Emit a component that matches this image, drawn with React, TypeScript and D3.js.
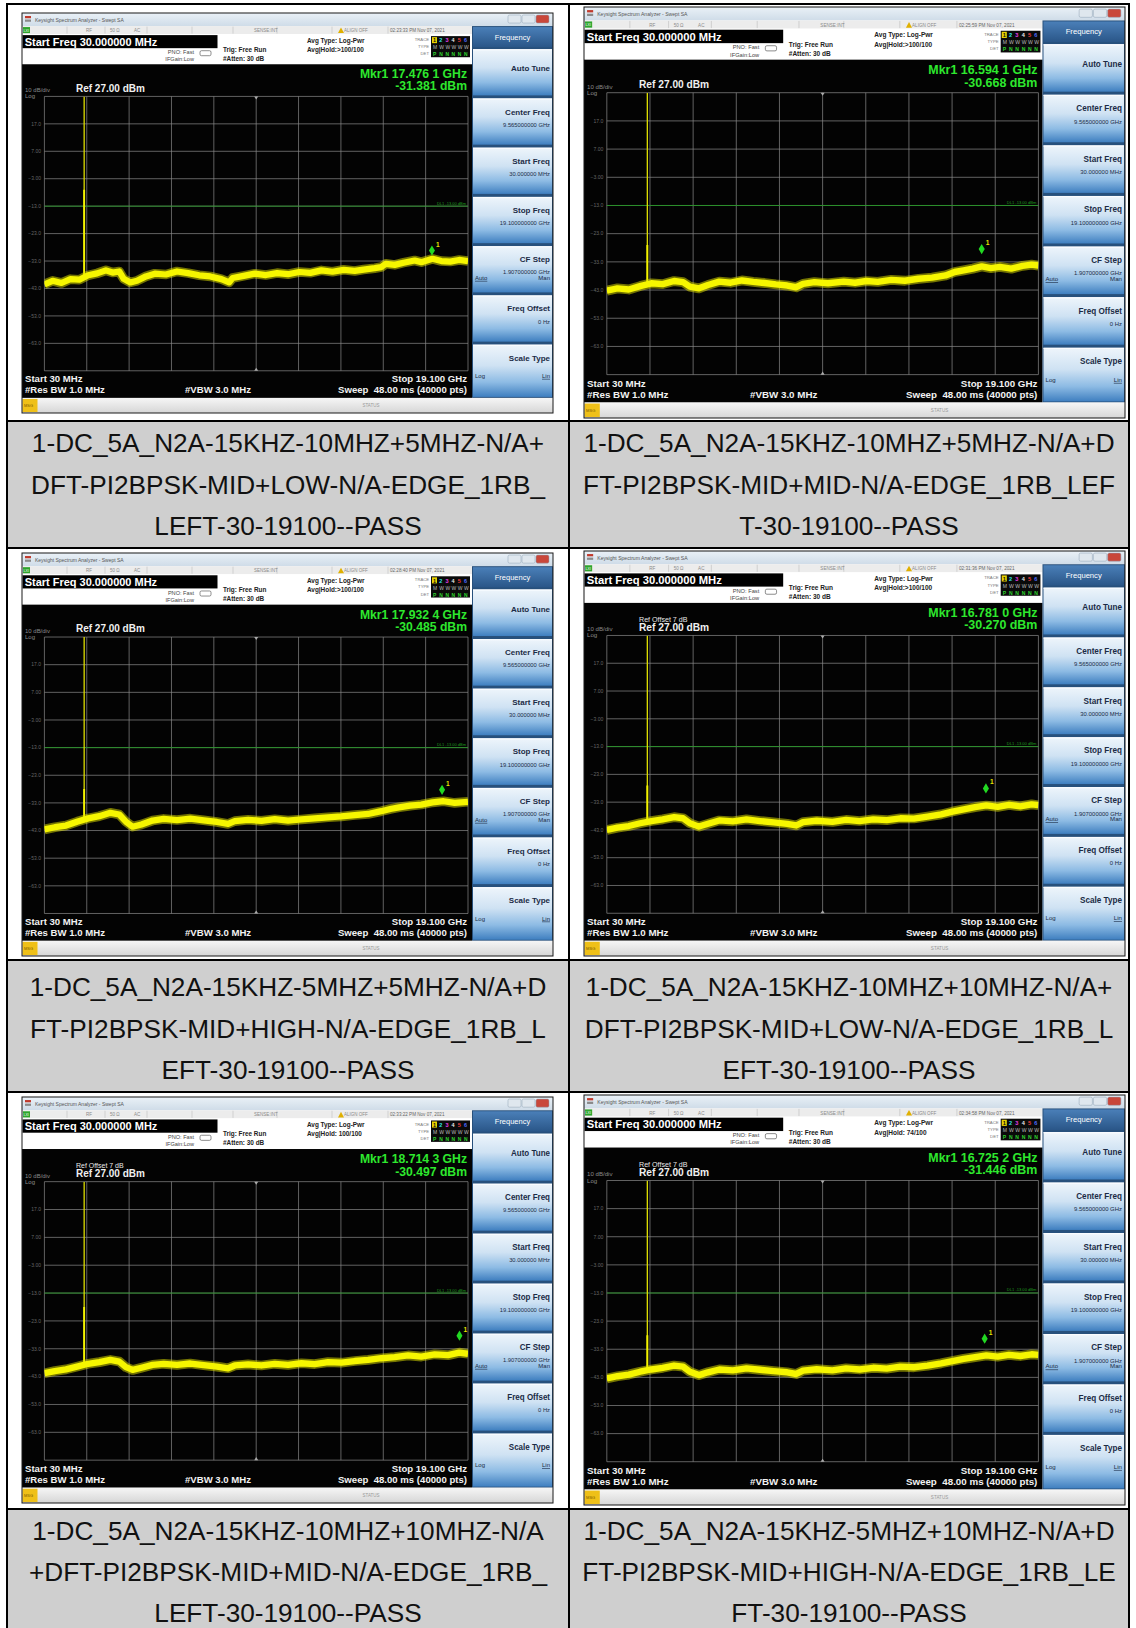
import { useEffect, useRef } from 'react'
import * as d3 from 'd3'

type Pt = [number, number]

// panels are ordered row by row, left cell first
const captions = [
  ['1-DC_5A_N2A-15KHZ-10MHZ+5MHZ-N/A+', 'DFT-PI2BPSK-MID+LOW-N/A-EDGE_1RB_', 'LEFT-30-19100--PASS'],
  ['1-DC_5A_N2A-15KHZ-10MHZ+5MHZ-N/A+D', 'FT-PI2BPSK-MID+MID-N/A-EDGE_1RB_LEF', 'T-30-19100--PASS'],
  ['1-DC_5A_N2A-15KHZ-5MHZ+5MHZ-N/A+D', 'FT-PI2BPSK-MID+HIGH-N/A-EDGE_1RB_L', 'EFT-30-19100--PASS'],
  ['1-DC_5A_N2A-15KHZ-10MHZ+10MHZ-N/A+', 'DFT-PI2BPSK-MID+LOW-N/A-EDGE_1RB_L', 'EFT-30-19100--PASS'],
  ['1-DC_5A_N2A-15KHZ-10MHZ+10MHZ-N/A', '+DFT-PI2BPSK-MID+MID-N/A-EDGE_1RB_', 'LEFT-30-19100--PASS'],
  ['1-DC_5A_N2A-15KHZ-5MHZ+10MHZ-N/A+D', 'FT-PI2BPSK-MID+HIGH-N/A-EDGE_1RB_LE', 'FT-30-19100--PASS'],
]
const timestamps = [
  '02:23:33 PM Nov 07, 2021', '02:25:59 PM Nov 07, 2021', '02:28:40 PM Nov 07, 2021',
  '02:31:36 PM Nov 07, 2021', '02:33:22 PM Nov 07, 2021', '02:34:58 PM Nov 07, 2021',
]
const markerFreqs = [17.4761, 16.5941, 17.9324, 16.781, 18.7143, 16.7252]
const markerFreqLabels = ['17.476 1 GHz', '16.594 1 GHz', '17.932 4 GHz', '16.781 0 GHz', '18.714 3 GHz', '16.725 2 GHz']
const markerLevels = [-31.381, -30.668, -30.485, -30.27, -30.497, -31.446]
const avgHolds = ['Avg|Hold:>100/100', 'Avg|Hold:>100/100', 'Avg|Hold:>100/100', 'Avg|Hold:>100/100', 'Avg|Hold: 100/100', 'Avg|Hold: 74/100']
const refOffsets = [false, false, false, true, true, true]
const spikeFreq = 1.82
const spikeBright = [-7, -27, -28, -27, -18, -28]
const yTicks = [27, 17, 7, -3, -13, -23, -33, -43, -53, -63, -73]
const displayLine = -13

const softkeyTitles = ['Auto Tune', 'Center Freq', 'Start Freq', 'Stop Freq', 'CF Step', 'Freq Offset', 'Scale Type']
const softkeyValues = ['', '9.565000000 GHz', '30.000000 MHz', '19.100000000 GHz', '1.907000000 GHz', '0 Hz', '']

// trace levels (GHz, dBm)
const trace1: Pt[] = [
  [0.03, -41.5], [0.4, -40.2], [0.8, -41], [1.2, -39.6], [1.6, -39.8], [2.0, -38.2], [2.4, -37.5], [2.8, -36.4],
  [3.1, -37.2], [3.4, -36.8], [3.6, -39.5], [3.9, -40.8], [4.2, -40.2], [4.6, -38.6], [5.0, -37.6], [5.5, -37.9],
  [6.0, -36.8], [6.5, -37.4], [7.0, -38.2], [7.5, -38.6], [8.0, -39.6], [8.35, -40.8], [8.5, -39.2], [9.0, -38.4],
  [9.5, -37.6], [10.0, -38.1], [10.5, -37.4], [11.0, -37.8], [11.5, -37.0], [12.0, -37.3], [12.5, -36.4], [13.0, -36.9],
  [13.5, -36.2], [14.0, -36.6], [14.4, -36.1], [14.9, -35.6], [15.2, -35.2], [15.4, -34.0], [15.8, -34.4], [16.2, -33.6],
  [16.7, -32.8], [17.0, -33.4], [17.5, -32.2], [17.9, -33.0], [18.3, -33.2], [18.7, -32.6], [19.1, -33.0],
]
const trace2: Pt[] = [
  [0.03, -43.2], [0.5, -42.4], [1.0, -42.8], [1.5, -41.6], [2.0, -40.6], [2.5, -40.9], [3.0, -39.8], [3.4, -40.2],
  [3.7, -41.8], [4.1, -42.4], [4.5, -41.2], [5.0, -40.0], [5.5, -40.4], [6.0, -39.6], [6.5, -40.1], [7.0, -40.5],
  [7.5, -41.0], [8.0, -41.4], [8.4, -42.0], [8.7, -40.8], [9.2, -40.2], [9.8, -40.6], [10.5, -40.0], [11.0, -40.4],
  [11.5, -39.8], [12.0, -40.1], [12.6, -39.4], [13.2, -39.7], [13.8, -39.0], [14.4, -38.6], [15.0, -37.8], [15.4, -36.6],
  [15.8, -36.0], [16.2, -35.4], [16.6, -34.6], [17.0, -35.2], [17.4, -34.8], [17.9, -35.4], [18.4, -34.4], [18.8, -34.0],
  [19.1, -34.3],
]
const trace3: Pt[] = [
  [0.03, -42.6], [0.5, -41.8], [1.0, -41.2], [1.5, -39.8], [2.0, -38.6], [2.5, -37.8], [3.0, -36.6], [3.4, -37.2],
  [3.7, -39.8], [4.0, -41.6], [4.4, -40.8], [4.9, -39.4], [5.4, -38.8], [6.0, -39.2], [6.6, -38.7], [7.2, -39.3],
  [7.8, -39.9], [8.3, -40.6], [8.6, -39.6], [9.2, -39.1], [9.8, -39.5], [10.4, -38.9], [11.0, -39.4], [11.6, -39.0],
  [12.2, -38.6], [12.8, -38.2], [13.4, -37.9], [14.0, -37.4], [14.6, -37.0], [15.2, -36.0], [15.6, -35.2], [16.0, -34.6],
  [16.5, -34.0], [17.0, -33.6], [17.5, -32.8], [18.0, -32.4], [18.5, -33.0], [19.1, -32.6],
]
const trace4: Pt[] = [
  [0.03, -43.0], [0.5, -42.2], [1.0, -41.6], [1.5, -40.6], [2.0, -39.8], [2.5, -39.2], [3.0, -38.4], [3.4, -38.8],
  [3.7, -40.6], [4.1, -41.8], [4.5, -40.8], [5.0, -39.6], [5.6, -39.9], [6.2, -39.2], [6.8, -39.8], [7.4, -40.3],
  [8.0, -40.8], [8.4, -41.4], [8.7, -40.2], [9.3, -39.7], [10.0, -40.1], [10.6, -39.4], [11.2, -39.8], [11.8, -39.2],
  [12.4, -39.5], [13.0, -38.8], [13.6, -38.9], [14.2, -38.2], [14.8, -37.4], [15.3, -36.4], [15.8, -35.6], [16.3, -34.8],
  [16.8, -34.2], [17.3, -34.7], [17.8, -34.0], [18.3, -34.5], [18.8, -33.8], [19.1, -34.1],
]
const trace5: Pt[] = [
  [0.03, -41.8], [0.5, -41.0], [1.0, -40.4], [1.5, -39.4], [2.0, -38.4], [2.5, -37.8], [3.0, -37.0], [3.4, -37.6],
  [3.7, -39.6], [4.0, -40.6], [4.4, -39.8], [4.9, -38.8], [5.4, -38.4], [6.0, -38.8], [6.6, -38.3], [7.2, -38.9],
  [7.8, -39.4], [8.3, -40.0], [8.6, -39.0], [9.2, -38.6], [9.8, -39.0], [10.4, -38.4], [11.0, -38.8], [11.6, -38.2],
  [12.2, -38.5], [12.8, -37.8], [13.4, -38.0], [14.0, -37.4], [14.6, -37.0], [15.2, -36.4], [15.8, -36.0], [16.4, -35.4],
  [17.0, -35.8], [17.6, -35.0], [18.2, -35.3], [18.7, -34.4], [19.1, -34.8],
]
const trace6: Pt[] = [
  [0.03, -43.4], [0.5, -42.6], [1.0, -42.0], [1.5, -41.0], [2.0, -40.2], [2.5, -39.6], [3.0, -38.8], [3.4, -39.2],
  [3.7, -41.0], [4.1, -42.2], [4.5, -41.2], [5.0, -40.2], [5.6, -40.5], [6.2, -39.8], [6.8, -40.3], [7.4, -40.8],
  [8.0, -41.2], [8.4, -41.8], [8.7, -40.6], [9.3, -40.1], [10.0, -40.5], [10.6, -39.8], [11.2, -40.2], [11.8, -39.6],
  [12.4, -39.9], [13.0, -39.2], [13.6, -39.4], [14.2, -38.8], [14.8, -38.0], [15.3, -37.2], [15.8, -36.4], [16.3, -35.8],
  [16.8, -35.2], [17.3, -35.6], [17.8, -35.0], [18.3, -35.4], [18.8, -34.8], [19.1, -35.0],
]
const traces = [trace1, trace2, trace3, trace4, trace5, trace6]

const FONT = '"Liberation Sans", Arial, sans-serif'
const NW = 531
const NH = 398

const boxes = [
  { x: 22, y: 13, w: 531, h: 400 },
  { x: 584, y: 7, w: 541, h: 411 },
  { x: 22, y: 553, w: 531, h: 403 },
  { x: 584, y: 551, w: 541, h: 405 },
  { x: 22, y: 1097, w: 531, h: 406 },
  { x: 584, y: 1095, w: 541, h: 410 },
]

function drawScreen(root: d3.Selection<SVGGElement, unknown, null, undefined>, i: number) {
  const b = boxes[i]
  const g = root.append('g')
    .attr('transform', `translate(${b.x},${b.y}) scale(${b.w / NW},${b.h / NH})`)
    .attr('font-family', FONT)

  const x = d3.scaleLinear().domain([0.03, 19.1]).range([22.4, 446])
  const y = d3.scaleLinear().domain([-73, 27]).range([356, 83])

  // title bar
  g.append('rect').attr('width', NW).attr('height', 13).attr('fill', 'url(#titleGrad)')
  g.append('rect').attr('x', 3).attr('y', 3).attr('width', 6).attr('height', 2.2).attr('fill', '#c0392b')
  g.append('rect').attr('x', 3).attr('y', 6.5).attr('width', 6).attr('height', 2.2).attr('fill', '#8a8a8a')
  g.append('text').attr('x', 13).attr('y', 8.5).attr('font-size', 5).attr('fill', '#555').text('Keysight Spectrum Analyzer - Swept SA')
  ;[[486, '#dfe7ee'], [500, '#dfe7ee'], [514, '#c9473a']].forEach(([bx, c]) => {
    g.append('rect').attr('x', bx as number).attr('y', 2).attr('width', 13).attr('height', 8).attr('rx', 1.5)
      .attr('fill', c as string).attr('stroke', '#8fa3b5').attr('stroke-width', 0.5)
  })

  // status row
  g.append('rect').attr('y', 13).attr('width', 450).attr('height', 8).attr('fill', '#ececec')
  ;[45, 83, 125, 170, 211, 255, 310, 366].forEach(sx => {
    g.append('line').attr('x1', sx).attr('x2', sx).attr('y1', 13.5).attr('y2', 20.5).attr('stroke', '#b5b5b5').attr('stroke-width', 0.5)
  })
  g.append('rect').attr('x', 1).attr('y', 14).attr('width', 7).attr('height', 6).attr('fill', '#2da52d')
  g.append('text').attr('x', 1.5).attr('y', 18.5).attr('font-size', 3.6).attr('fill', '#fff').text('LXI')
  const st = (tx: number, t: string) => g.append('text').attr('x', tx).attr('y', 19).attr('font-size', 4.5).attr('fill', '#8a8a8a').text(t)
  st(64, 'RF'); st(88, '50 Ω'); st(112, 'AC'); st(232, 'SENSE:INT'); st(322, 'ALIGN OFF')
  g.append('path').attr('d', 'M316,20 L319,14.5 L322,20 Z').attr('fill', '#e0b000')
  g.append('text').attr('x', 368).attr('y', 19).attr('font-size', 4.6).attr('fill', '#666').text(timestamps[i])

  // info area
  g.append('rect').attr('y', 21).attr('width', 450).attr('height', 30).attr('fill', '#fff')
  g.append('rect').attr('x', 0.5).attr('y', 22).attr('width', 195).attr('height', 13).attr('fill', '#000')
  g.append('text').attr('x', 2.7).attr('y', 32.5).attr('font-size', 11).attr('font-weight', 'bold').attr('fill', '#fff').text('Start Freq 30.000000 MHz')
  g.append('text').attr('x', 172).attr('y', 41).attr('font-size', 5.6).attr('text-anchor', 'end').attr('fill', '#444').text('PNO: Fast')
  g.append('text').attr('x', 172).attr('y', 48).attr('font-size', 5.6).attr('text-anchor', 'end').attr('fill', '#444').text('IFGain:Low')
  g.append('rect').attr('x', 178).attr('y', 37.5).attr('width', 11).attr('height', 5).attr('rx', 1.5).attr('fill', 'none').attr('stroke', '#444').attr('stroke-width', 0.6)
  g.append('text').attr('x', 201).attr('y', 38.5).attr('font-size', 6.4).attr('font-weight', 'bold').attr('fill', '#222').text('Trig: Free Run')
  g.append('text').attr('x', 201).attr('y', 47.5).attr('font-size', 6.4).attr('font-weight', 'bold').attr('fill', '#222').text('#Atten: 30 dB')
  g.append('text').attr('x', 285).attr('y', 29.5).attr('font-size', 6.4).attr('font-weight', 'bold').attr('fill', '#222').text('Avg Type: Log-Pwr')
  g.append('text').attr('x', 285).attr('y', 38.5).attr('font-size', 6.4).attr('font-weight', 'bold').attr('fill', '#222').text(avgHolds[i])
  ;['TRACE', 'TYPE', 'DET'].forEach((t, k) => {
    g.append('text').attr('x', 407).attr('y', 28 + k * 7).attr('font-size', 4.2).attr('text-anchor', 'end').attr('fill', '#777').text(t)
  })
  g.append('rect').attr('x', 409).attr('y', 23).attr('width', 39).attr('height', 21).attr('fill', '#0a0a0a')
  const traceCols = ['#111', '#2ee6e6', '#e83ee8', '#e8e8e8', '#f03c3c', '#4e6cff']
  g.append('rect').attr('x', 410).attr('y', 24).attr('width', 5).attr('height', 6).attr('fill', '#e8d100')
  traceCols.forEach((c, k) => {
    g.append('text').attr('x', 411 + k * 6.2).attr('y', 29.3).attr('font-size', 5.5).attr('font-weight', 'bold').attr('fill', c).text(String(k + 1))
    g.append('text').attr('x', 411 + k * 6.2).attr('y', 36.3).attr('font-size', 5).attr('fill', '#bbb').text(k === 0 ? 'M' : 'W')
    g.append('text').attr('x', 411 + k * 6.2).attr('y', 43).attr('font-size', 5).attr('font-weight', 'bold').attr('fill', '#2fd22f').text(k === 0 ? 'P' : 'N')
  })

  // screen
  g.append('rect').attr('y', 51).attr('width', 450).attr('height', 332).attr('fill', '#030303')
  g.append('text').attr('x', 445).attr('y', 65).attr('text-anchor', 'end').attr('font-size', 12.2).attr('font-weight', 'bold').attr('fill', '#2ee82e').text(`Mkr1 ${markerFreqLabels[i]}`)
  g.append('text').attr('x', 445).attr('y', 77).attr('text-anchor', 'end').attr('font-size', 12.2).attr('font-weight', 'bold').attr('fill', '#2ee82e').text(`${markerLevels[i].toFixed(3)} dBm`)
  g.append('text').attr('x', 3).attr('y', 79).attr('font-size', 6).attr('fill', '#8a8a8a').text('10 dB/div')
  g.append('text').attr('x', 3).attr('y', 85).attr('font-size', 6).attr('fill', '#8a8a8a').text('Log')
  g.append('text').attr('x', 54).attr('y', 78.5).attr('font-size', 10).attr('font-weight', 'bold').attr('fill', '#f0f0f0').text('Ref 27.00 dBm')
  if (refOffsets[i]) {
    g.append('text').attr('x', 54).attr('y', 69.5).attr('font-size', 7).attr('fill', '#e6e6e6').text('Ref Offset 7 dB')
  }

  // graticule
  const [gx0, gx1] = x.range()
  const divX = d3.range(11).map(k => gx0 + (gx1 - gx0) * k / 10)
  g.append('g').selectAll('line.v').data(divX).enter().append('line')
    .attr('x1', d => d).attr('x2', d => d).attr('y1', y(27)).attr('y2', y(-73))
    .attr('stroke', '#8a8a8a').attr('stroke-width', 0.7)
  g.append('g').selectAll('line.h').data(yTicks).enter().append('line')
    .attr('x1', gx0).attr('x2', gx1).attr('y1', d => y(d)).attr('y2', d => y(d))
    .attr('stroke', '#8a8a8a').attr('stroke-width', 0.7)
  g.append('g').selectAll('text').data(yTicks.slice(1, -1)).enter().append('text')
    .attr('x', 19).attr('y', d => y(d)).attr('dy', '0.35em').attr('text-anchor', 'end')
    .attr('font-size', 5).attr('fill', '#666').text(d => d3.format('.3r')(d))
  const cx = (gx0 + gx1) / 2
  g.append('path').attr('d', `M${cx - 2},${y(27)} L${cx + 2},${y(27)} L${cx},${y(27) + 3} Z`).attr('fill', '#aaa')
  g.append('path').attr('d', `M${cx - 2},${y(-73)} L${cx + 2},${y(-73)} L${cx},${y(-73) - 3} Z`).attr('fill', '#aaa')

  // display line
  g.append('line').attr('x1', gx0).attr('x2', gx1).attr('y1', y(displayLine)).attr('y2', y(displayLine))
    .attr('stroke', '#1f9a1f').attr('stroke-width', 0.8)
  g.append('text').attr('x', gx1 - 2).attr('y', y(displayLine) - 1.5).attr('text-anchor', 'end')
    .attr('font-size', 4).attr('fill', '#1f9a1f').text('DL1 -13.00 dBm')

  const clipId = `grat-${i}`
  g.append('clipPath').attr('id', clipId).append('rect')
    .attr('x', gx0).attr('y', y(27)).attr('width', gx1 - gx0).attr('height', y(-73) - y(27))
  const plot = g.append('g').attr('clip-path', `url(#${clipId})`)

  // spike
  const data = traces[i]
  const base = d3.scaleLinear().domain(data.map(d => d[0])).range(data.map(d => d[1]))(spikeFreq)
  plot.append('line').attr('x1', x(spikeFreq)).attr('x2', x(spikeFreq)).attr('y1', y(base)).attr('y2', y(27))
    .attr('stroke', '#dede00').attr('stroke-width', 1.3)
  plot.append('line').attr('x1', x(spikeFreq)).attr('x2', x(spikeFreq)).attr('y1', y(base)).attr('y2', y(spikeBright[i]))
    .attr('stroke', '#f4f400').attr('stroke-width', 1.9)

  // trace
  const line = d3.line<Pt>().x(d => x(d[0])).y(d => y(d[1]))
  plot.append('path').datum(data).attr('fill', 'none').attr('stroke', '#e4e400').attr('stroke-width', 9.5)
    .attr('stroke-linejoin', 'round').attr('opacity', 0.5).attr('d', line)
  plot.append('path').datum(data).attr('fill', 'none').attr('stroke', '#f6f600').attr('stroke-width', 6.2)
    .attr('stroke-linejoin', 'round').attr('d', line)

  // marker
  const mx = x(markerFreqs[i])
  const my = y(markerLevels[i]) - 6
  g.append('path').attr('d', `M${mx},${my - 5} L${mx + 3},${my} L${mx},${my + 5} L${mx - 3},${my} Z`).attr('fill', '#22d822')
  g.append('text').attr('x', mx + 4).attr('y', my - 4).attr('font-size', 6.5).attr('font-weight', 'bold').attr('fill', '#e6e600').text('1')

  // bottom annotations
  const bt = (tx: number, ty: number, t: string, anchor = 'start') =>
    g.append('text').attr('x', tx).attr('y', ty).attr('text-anchor', anchor).attr('font-size', 9.6)
      .attr('font-weight', 'bold').attr('fill', '#f2f2f2').text(t)
  bt(3, 367.5, 'Start 30 MHz')
  bt(3, 378.5, '#Res BW 1.0 MHz')
  bt(163, 378.5, '#VBW 3.0 MHz')
  bt(445, 367.5, 'Stop 19.100 GHz', 'end')
  bt(445, 378.5, 'Sweep  48.00 ms (40000 pts)', 'end').attr('xml:space', 'preserve')

  // softkey panel
  g.append('rect').attr('x', 450).attr('y', 13).attr('width', 81).attr('height', 370).attr('fill', '#27507c')
  g.append('rect').attr('x', 451).attr('y', 14).attr('width', 79).attr('height', 20).attr('fill', 'url(#headGrad)')
  g.append('text').attr('x', 490.5).attr('y', 26.5).attr('text-anchor', 'middle').attr('font-size', 7.5).attr('fill', '#fff').text('Frequency')
  const keyTop = [36, 85, 134, 183, 232, 281, 330]
  softkeyTitles.forEach((t, k) => {
    const ky = keyTop[k]
    const kh = k === 6 ? 52 : 46
    g.append('rect').attr('x', 451).attr('y', ky).attr('width', 79).attr('height', kh).attr('fill', 'url(#keyGrad)')
    g.append('rect').attr('x', 451).attr('y', ky).attr('width', 79).attr('height', 1.2).attr('fill', '#fafcff')
    g.append('text').attr('x', 528).attr('y', ky + (k === 0 ? 22 : 16)).attr('text-anchor', 'end').attr('font-size', 8)
      .attr('font-weight', 'bold').attr('fill', '#1b2b45').text(t)
    if (softkeyValues[k]) {
      g.append('text').attr('x', 528).attr('y', ky + 28).attr('text-anchor', 'end').attr('font-size', 5.8)
        .attr('fill', '#1b2b45').text(softkeyValues[k])
    }
  })
  g.append('text').attr('x', 453).attr('y', 265.5).attr('font-size', 6).attr('fill', '#1b2b45').attr('text-decoration', 'underline').text('Auto')
  g.append('text').attr('x', 528).attr('y', 265.5).attr('text-anchor', 'end').attr('font-size', 6).attr('fill', '#1b2b45').text('Man')
  g.append('text').attr('x', 453).attr('y', 363).attr('font-size', 6).attr('fill', '#1b2b45').text('Log')
  g.append('text').attr('x', 528).attr('y', 363).attr('text-anchor', 'end').attr('font-size', 6).attr('fill', '#1b2b45').attr('text-decoration', 'underline').text('Lin')

  // status bar
  g.append('rect').attr('y', 383).attr('width', NW).attr('height', 15).attr('fill', 'url(#statusGrad)')
  g.append('rect').attr('x', 0.5).attr('y', 384).attr('width', 15).attr('height', 13).attr('fill', '#efc018')
  g.append('text').attr('x', 2).attr('y', 392).attr('font-size', 4).attr('fill', '#7a5a00').text('MSG')
  g.append('text').attr('x', 349).attr('y', 392.5).attr('text-anchor', 'middle').attr('font-size', 4.5).attr('fill', '#999').text('STATUS')

  g.append('rect').attr('x', 0).attr('y', 0).attr('width', NW).attr('height', NH).attr('fill', 'none')
    .attr('stroke', '#1a1a1a').attr('stroke-width', 1)
}

export default function App() {
  const svgRef = useRef<SVGSVGElement>(null)

  useEffect(() => {
    if (!svgRef.current) return
    document.body.style.margin = '0'
    const W = 1136
    const H = 1628
    const svg = d3.select(svgRef.current)
    svg.selectAll('*').remove()
    svg.attr('width', W).attr('height', H)

    const defs = svg.append('defs')
    const grad = (id: string, stops: [string, string][]) => {
      const lg = defs.append('linearGradient').attr('id', id).attr('x1', 0).attr('y1', 0).attr('x2', 0).attr('y2', 1)
      stops.forEach(([o, c]) => lg.append('stop').attr('offset', o).attr('stop-color', c))
    }
    grad('titleGrad', [['0%', '#eaf1f7'], ['100%', '#cfdce8']])
    grad('headGrad', [['0%', '#4a7fb8'], ['100%', '#2a5688']])
    grad('keyGrad', [['0%', '#eef5fb'], ['40%', '#cfe2f3'], ['72%', '#8dbbe4'], ['100%', '#3f7fc0']])
    grad('statusGrad', [['0%', '#f6f6f6'], ['100%', '#d6d6d6']])

    svg.append('rect').attr('width', W).attr('height', H).attr('fill', '#fff')

    // table cells
    const colX = [7, 569, 1129]
    const captionRows = [[421, 548], [960, 1092], [1509, 1640]]
    const captionBase = [[452, 493.5, 535], [996, 1037.5, 1079], [1540, 1581, 1622]]
    const table = svg.append('g')
    captionRows.forEach(([t, bt]) => {
      table.append('rect').attr('x', colX[0]).attr('y', t).attr('width', colX[2] - colX[0]).attr('height', bt - t).attr('fill', '#cfcfcf')
    })

    const root = svg.append('g')
    boxes.forEach((_, i) => drawScreen(root, i))

    captions.forEach((lines, i) => {
      const col = i % 2
      const row = Math.floor(i / 2)
      const cx = (colX[col] + colX[col + 1]) / 2
      lines.forEach((t, k) => {
        table.append('text').attr('x', cx).attr('y', captionBase[row][k]).attr('text-anchor', 'middle')
          .attr('font-family', FONT).attr('font-size', 26.2).attr('fill', '#111').text(t)
      })
    })

    const hLines = [4, 421, 548, 960, 1092, 1509]
    hLines.forEach(hy => {
      table.append('line').attr('x1', 6).attr('x2', 1130).attr('y1', hy).attr('y2', hy).attr('stroke', '#000').attr('stroke-width', 2)
    })
    colX.forEach(vx => {
      table.append('line').attr('x1', vx).attr('x2', vx).attr('y1', 3).attr('y2', H).attr('stroke', '#000').attr('stroke-width', 2)
    })
    table.raise()
  }, [])

  return (
    <div style={{ position: 'absolute', left: 0, top: 0 }}>
      <svg ref={svgRef} style={{ display: 'block' }} />
    </div>
  )
}
